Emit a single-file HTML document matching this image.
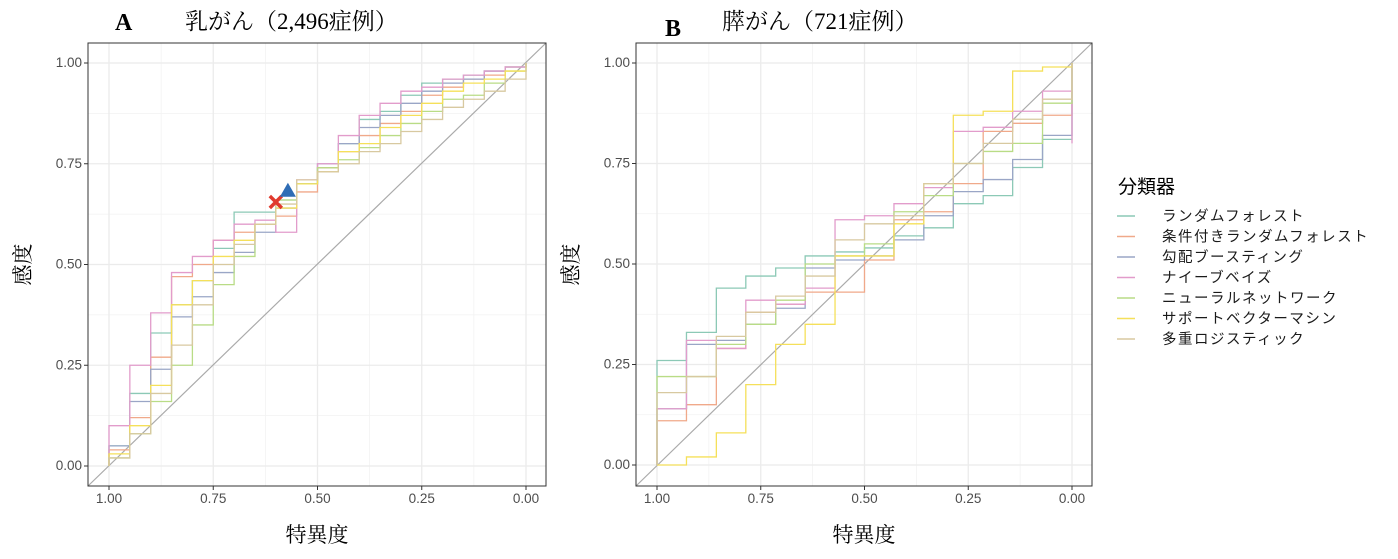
<!DOCTYPE html>
<html><head><meta charset="utf-8">
<style>
body{margin:0;background:#fff;}
svg{display:block;font-family:"Liberation Sans","Noto Sans CJK JP",sans-serif;}
.tick{font-size:13.5px;fill:#4d4d4d;}
</style></head>
<body>
<svg id="chart" width="1398" height="559" viewBox="0 0 1398 559" xmlns="http://www.w3.org/2000/svg">
<text x="115" y="30" font-family="Liberation Serif,serif" font-weight="bold" font-size="24">A</text>
<text x="185" y="29" font-size="23" font-family="Liberation Serif,'Noto Serif CJK SC',serif">乳がん（2,496症例）</text>
<text x="665" y="36" font-family="Liberation Serif,serif" font-weight="bold" font-size="24">B</text>
<text x="722" y="29" font-size="23" font-family="Liberation Serif,'Noto Serif CJK SC',serif">膵がん（721症例）</text>
<g id="pa"></g>
<g id="pb"></g>
<g id="legend">
<text x="1118" y="193" font-size="19">分類器</text>
</g>
</svg>
<script>
const classifiers=["ランダムフォレスト","条件付きランダムフォレスト","勾配ブースティング","ナイーブベイズ","ニューラルネットワーク","サポートベクターマシン","多重ロジスティック"];
const colors=["#8cc9b6","#f0a98a","#9aa6c6","#e29ccb","#b9dc86","#f5e05a","#d8c9a0"];
const ticks=[0,0.25,0.5,0.75,1];
const tickLabels=["0.00","0.25","0.50","0.75","1.00"];
const specA=[1,0.95,0.9,0.85,0.8,0.75,0.7,0.65,0.6,0.55,0.5,0.45,0.4,0.35,0.3,0.25,0.2,0.15,0.1,0.05,0];
const sensA0=[0.05,0.18,0.33,0.40,0.46,0.54,0.63,0.63,0.66,0.70,0.74,0.80,0.86,0.88,0.92,0.95,0.96,0.97,0.98,0.99,1];
const sensA1=[0.04,0.12,0.27,0.47,0.50,0.56,0.58,0.60,0.62,0.68,0.74,0.78,0.82,0.85,0.88,0.92,0.94,0.96,0.97,0.99,1];
const sensA2=[0.05,0.16,0.24,0.37,0.42,0.48,0.53,0.58,0.64,0.70,0.75,0.80,0.84,0.87,0.90,0.93,0.95,0.96,0.98,0.99,1];
const sensA3=[0.10,0.25,0.38,0.48,0.52,0.56,0.60,0.61,0.58,0.71,0.75,0.82,0.87,0.90,0.93,0.94,0.96,0.97,0.98,0.99,1];
const sensA4=[0.02,0.08,0.16,0.25,0.35,0.45,0.52,0.60,0.66,0.70,0.74,0.76,0.79,0.82,0.85,0.88,0.91,0.92,0.95,0.98,1];
const sensA5=[0.03,0.10,0.20,0.40,0.46,0.52,0.56,0.60,0.64,0.70,0.73,0.78,0.80,0.84,0.87,0.90,0.93,0.95,0.96,0.98,1];
const sensA6=[0.02,0.08,0.18,0.30,0.40,0.50,0.55,0.60,0.65,0.71,0.73,0.75,0.78,0.80,0.83,0.86,0.89,0.91,0.93,0.96,1];
const specB=[1,0.929,0.857,0.786,0.714,0.643,0.571,0.5,0.429,0.357,0.286,0.214,0.143,0.071,0];
const sensB0=[0.26,0.33,0.44,0.47,0.49,0.52,0.53,0.54,0.57,0.59,0.65,0.67,0.74,0.81,1];
const sensB1=[0.11,0.15,0.29,0.38,0.40,0.43,0.43,0.51,0.61,0.63,0.70,0.83,0.85,0.87,1];
const sensB2=[0.14,0.30,0.31,0.35,0.39,0.49,0.51,0.52,0.56,0.62,0.68,0.71,0.76,0.82,0.83];
const sensB3=[0.14,0.31,0.29,0.41,0.40,0.44,0.61,0.62,0.65,0.69,0.83,0.84,0.88,0.93,0.80];
const sensB4=[0.22,0.22,0.30,0.35,0.41,0.50,0.52,0.55,0.63,0.67,0.75,0.78,0.80,0.90,1];
const sensB5=[0.00,0.02,0.08,0.20,0.30,0.35,0.52,0.52,0.60,0.70,0.87,0.88,0.98,0.99,1];
const sensB6=[0.18,0.22,0.32,0.38,0.42,0.47,0.56,0.60,0.62,0.70,0.75,0.80,0.86,0.91,1];
const markerX=[0.60,0.655];
const markerTri=[0.571,0.683];
const NS="http://www.w3.org/2000/svg";
function mk(tag,attrs,parent){const e=document.createElementNS(NS,tag);for(const k in attrs)e.setAttribute(k,attrs[k]);parent.appendChild(e);return e;}
function panel(g,L,R,T,B,x1,x0,y1,y0,spec,sensList,yTitleX,xTitleX){
  const X=s=>x1+(1-s)*(x0-x1);
  const Y=v=>y0-(y0-y1)*v;
  mk('rect',{x:L,y:T,width:R-L,height:B-T,fill:'#fff'},g);
  for(let i=0;i<4;i++){const m=ticks[i]+0.125;
    mk('line',{x1:X(m),x2:X(m),y1:T,y2:B,stroke:'#f2f2f2','stroke-width':0.8},g);
    mk('line',{x1:L,x2:R,y1:Y(m),y2:Y(m),stroke:'#f2f2f2','stroke-width':0.8},g);}
  ticks.forEach((t,i)=>{
    const gl=mk('line',{x1:X(t),x2:X(t),y1:T,y2:B,stroke:'#ebebeb','stroke-width':1.3},g);
    
    
    mk('line',{x1:L,x2:R,y1:Y(t),y2:Y(t),stroke:'#ebebeb','stroke-width':1.3},g);
    const xl=mk('text',{x:X(t),y:B+17,'text-anchor':'middle',class:'tick'},g);xl.textContent=tickLabels[i];
    
    
    const yl=mk('text',{x:L-6,y:Y(t)+4,'text-anchor':'end',class:'tick'},g);yl.textContent=tickLabels[i];
    
    
    mk('line',{x1:X(t),x2:X(t),y1:B,y2:B+4,stroke:'#333'},g);
    mk('line',{x1:L-4,x2:L,y1:Y(t),y2:Y(t),stroke:'#333'},g);
  });
  const d=mk('line',{x1:L,y1:B,x2:R,y2:T,stroke:'#aaa','stroke-width':1.2},g);
  
  
  sensList.forEach((sens,k)=>{
    let p='M'+X(1)+','+Y(0)+' L'+X(spec[0])+','+Y(sens[0]);
    for(let i=1;i<spec.length;i++){p+=' L'+X(spec[i])+','+Y(sens[i-1])+' L'+X(spec[i])+','+Y(sens[i]);}
    if(spec[spec.length-1]===0&&sens[sens.length-1]<1)p+=' L'+X(0)+','+Y(1);
    const path=mk('path',{d:p,fill:'none',stroke:colors[k],'stroke-width':1.3},g);
    
    
  });
  mk('rect',{x:L,y:T,width:R-L,height:B-T,fill:'none',stroke:'#333','stroke-width':1},g);
  const yt=mk('text',{x:yTitleX,y:(T+B)/2,'text-anchor':'middle','font-size':21,'font-family':"Liberation Serif,'Noto Serif CJK SC',serif",transform:'rotate(-90 '+yTitleX+' '+(T+B)/2+')'},g);
  yt.textContent='感度';
  
  
  const xt=mk('text',{x:xTitleX,y:542,'text-anchor':'middle','font-size':21,'font-family':"Liberation Serif,'Noto Serif CJK SC',serif"},g);
  xt.textContent='特異度';
  
  
  return {X,Y};
}
const ga=document.getElementById('pa');
const A=panel(ga,88,546,43,486,109,526,63,466,specA,[sensA0,sensA1,sensA2,sensA3,sensA4,sensA5,sensA6],30,317);
const gb=document.getElementById('pb');
panel(gb,636,1092,43,486,657,1072,63,465,specB,[sensB0,sensB1,sensB2,sensB3,sensB4,sensB5,sensB6],578,864);
const mx=A.X(markerX[0]),my=A.Y(markerX[1]);
const xm=mk('path',{d:`M${mx-6},${my-6}L${mx+6},${my+6}M${mx+6},${my-6}L${mx-6},${my+6}`,stroke:'#e03a2e','stroke-width':3.5},ga);


const tx=A.X(markerTri[0]),ty=A.Y(markerTri[1]);
const tm=mk('path',{d:`M${tx},${ty-8}L${tx+8},${ty+6}L${tx-8},${ty+6}Z`,fill:'#2f6db5'},ga);


const lg=document.getElementById('legend');
classifiers.forEach((c,i)=>{
  const y=216+i*20.5;
  const l=mk('line',{x1:1117,x2:1135,y1:y,y2:y,stroke:colors[i],'stroke-width':1.5},lg);
  
  
  const t=mk('text',{x:1162,y:y+5,'font-size':14.5,fill:'#1a1a1a','letter-spacing':'1.5'},lg);
  t.textContent=c;
  
  
});
</script>
</body></html>
